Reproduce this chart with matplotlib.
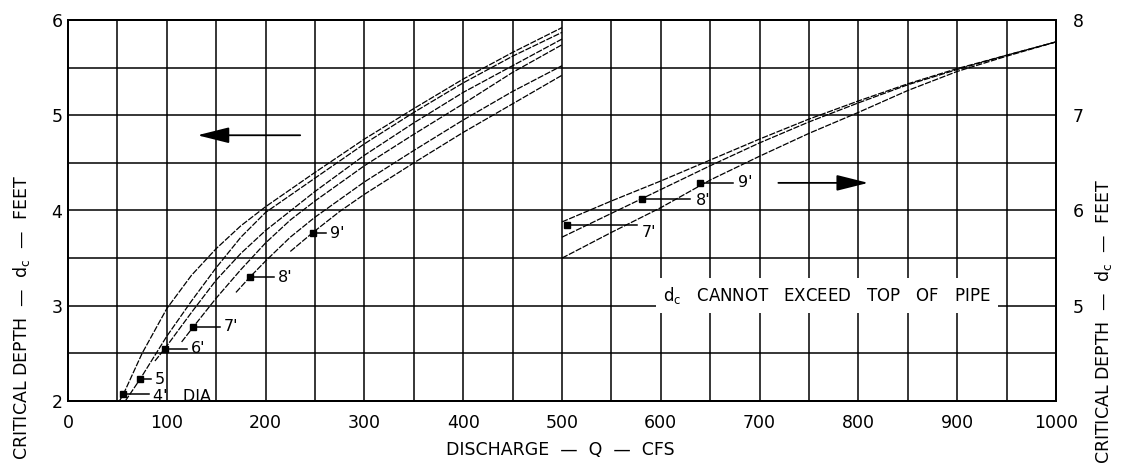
import numpy as np
import matplotlib.pyplot as plt

plt.rcParams['font.family'] = 'DejaVu Sans'

# left half of the chart, Q 0-500, read on the left scale (ft)
q_4 = [52, 56, 75, 100, 125, 150, 175, 200, 250, 300, 350, 400, 450, 500]
dc_4 = [2.0, 2.07, 2.5, 2.97, 3.32, 3.6, 3.84, 4.04, 4.4, 4.75, 5.07, 5.38, 5.66, 5.92]
q_5 = [58, 73, 100, 125, 150, 175, 200, 250, 300, 350, 400, 450, 500]
dc_5 = [2.0, 2.23, 2.68, 3.05, 3.4, 3.72, 3.98, 4.34, 4.7, 5.03, 5.34, 5.62, 5.87]
q_6 = [88, 98, 125, 150, 175, 200, 250, 300, 350, 400, 450, 500]
dc_6 = [2.42, 2.55, 2.93, 3.27, 3.55, 3.79, 4.2, 4.58, 4.92, 5.24, 5.52, 5.8]
q_7 = [115, 127, 150, 175, 200, 225, 250, 300, 350, 400, 450, 500]
dc_7 = [2.62, 2.78, 3.08, 3.38, 3.66, 3.9, 4.1, 4.47, 4.8, 5.12, 5.45, 5.74]
q_8 = [170, 184, 200, 225, 250, 300, 350, 400, 450, 500]
dc_8 = [3.14, 3.3, 3.47, 3.72, 3.93, 4.3, 4.63, 4.95, 5.25, 5.52]
q_9 = [225, 248, 275, 300, 350, 400, 450, 500]
dc_9 = [3.57, 3.77, 3.99, 4.17, 4.5, 4.82, 5.12, 5.42]

# right half, Q 500-1000, read on the right scale (ft)
qr_7 = [500, 550, 600, 650, 700, 750, 800, 850, 900, 950, 1000]
dcr_7 = [5.88, 6.1, 6.31, 6.53, 6.75, 6.96, 7.15, 7.33, 7.49, 7.63, 7.77]
qr_8 = [500, 550, 600, 650, 700, 750, 800, 850, 900, 950, 1000]
dcr_8 = [5.72, 5.97, 6.22, 6.47, 6.71, 6.93, 7.13, 7.32, 7.48, 7.63, 7.77]
qr_9 = [500, 550, 600, 650, 700, 750, 800, 850, 900, 950, 1000]
dcr_9 = [5.5, 5.77, 6.03, 6.32, 6.57, 6.81, 7.03, 7.26, 7.46, 7.62, 7.77]

# diameter tags: marker point, end of leader, text
tag_q = [56, 73, 98, 127, 184, 248]
tag_dc = [2.07, 2.23, 2.55, 2.78, 3.3, 3.76]
tag_end = [82, 84, 120, 154, 208, 261]
tag_txt = ["4'   DIA", "5", "6'", "7'", "8'", "9'"]
tag_dy = [-0.02, 0, 0, 0, 0, 0]

tagr_q = [505, 581, 640]
tagr_dc = [5.85, 6.12, 6.29]
tagr_end = [576, 630, 673]
tagr_txt = ["7'", "8'", "9'"]
tagr_dy = [-0.08, -0.01, 0]

xticks = np.arange(0, 1001, 50)
yticks = np.arange(2, 6.01, 0.5)

fig = plt.figure(figsize=(11.22, 4.75), dpi=100)
ax = fig.add_axes([68/1122, 74/475, 988/1122, 381/475])
ax.set_xlim(0, 1000)
ax.set_ylim(2, 6)
ax.set_xticks(xticks)
ax.set_xticklabels([str(v) if v % 100 == 0 else '' for v in xticks])
ax.set_yticks(yticks)
ax.set_yticklabels([str(int(v)) if v % 1 == 0 else '' for v in yticks])
ax.grid(True, color='black', lw=1.1)
ax.tick_params(axis='x', length=0, labelsize=12.5, pad=9)
ax.tick_params(axis='y', length=0, labelsize=12.5, pad=4)
for s in ax.spines.values():
    s.set_linewidth(1.4)

ax2 = ax.twinx()
ax2.set_ylim(4, 8)
ax2.set_yticks([5, 6, 7, 8])
ax2.tick_params(length=0, labelsize=12.5, pad=12)
for s in ax2.spines.values():
    s.set_linewidth(1.4)

sty = dict(color='black', lw=0.9, ls=(0, (5, 1.2)))
for q, d in [(q_4, dc_4), (q_5, dc_5), (q_6, dc_6), (q_7, dc_7), (q_8, dc_8), (q_9, dc_9)]:
    ax.plot(q, d, **sty)
for q, d in [(qr_7, dcr_7), (qr_8, dcr_8), (qr_9, dcr_9)]:
    ax2.plot(q, d, **sty)

for i in range(len(tag_q)):
    ax.plot([tag_q[i], tag_end[i]], [tag_dc[i], tag_dc[i]], color='black', lw=1.1, clip_on=False)
    ax.plot(tag_q[i], tag_dc[i], 's', color='black', ms=5, clip_on=False)
    ax.text(tag_end[i] + 4, tag_dc[i] + tag_dy[i], tag_txt[i], fontsize=11.5, va='center', ha='left')
for i in range(len(tagr_q)):
    ax2.plot([tagr_q[i], tagr_end[i]], [tagr_dc[i], tagr_dc[i]], color='black', lw=1.1)
    ax2.plot(tagr_q[i], tagr_dc[i], 's', color='black', ms=5)
    ax2.text(tagr_end[i] + 5, tagr_dc[i] + tagr_dy[i], tagr_txt[i], fontsize=11.5, va='center', ha='left')

# direction arrows: left scale / right scale
ax.annotate('', xy=(131, 4.79), xytext=(235, 4.79),
            arrowprops=dict(arrowstyle='-|>,head_length=1.4,head_width=0.35', lw=1.3,
                            color='black', mutation_scale=14, shrinkA=0, shrinkB=0))
ax2.annotate('', xy=(810, 6.29), xytext=(719, 6.29),
             arrowprops=dict(arrowstyle='-|>,head_length=1.4,head_width=0.35', lw=1.3,
                             color='black', mutation_scale=14, shrinkA=0, shrinkB=0))

ax.text(768, 3.11, r'$\mathrm{d_c}$   CANNOT   EXCEED   TOP   OF   PIPE', fontsize=12,
        ha='center', va='center', zorder=5,
        bbox=dict(facecolor='white', edgecolor='none', pad=5))

fig.text(560/1122, 1 - 450/475, 'DISCHARGE  —  Q  —  CFS', fontsize=12.5, ha='center', va='center')
fig.text(22/1122, 1 - 318/475, r'CRITICAL DEPTH  —  $\mathrm{d_c}$  —  FEET', fontsize=12.5,
         rotation=90, ha='center', va='center')
fig.text(1103/1122, 1 - 322/475, r'CRITICAL DEPTH  —  $\mathrm{d_c}$  —  FEET', fontsize=12.5,
         rotation=90, ha='center', va='center')

fig.savefig('out.png', dpi=100)
